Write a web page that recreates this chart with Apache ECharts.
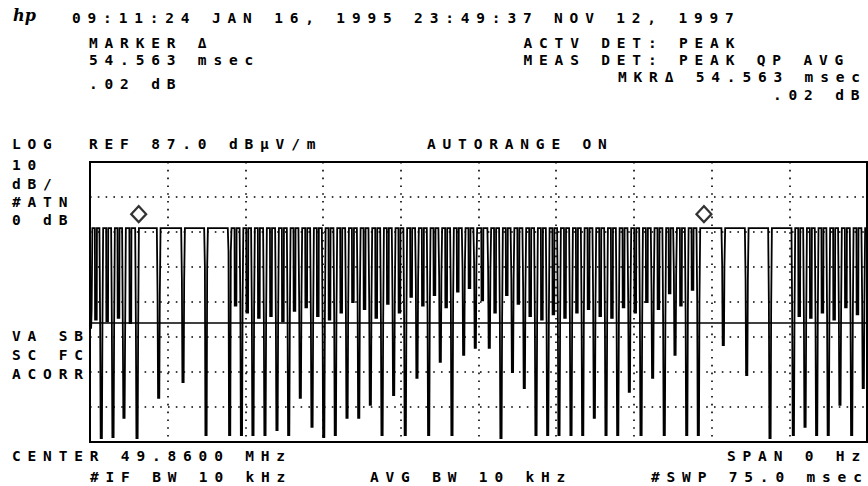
<!DOCTYPE html>
<html><head><meta charset="utf-8">
<script src="https://cdn.jsdelivr.net/npm/echarts@6.0.0/dist/echarts.min.js"></script>
<style>
html,body{margin:0;padding:0;background:#fff;}
#c{width:868px;height:486px;}
#c svg text{letter-spacing:6.82px;}
#c svg text[fill="#010101"]{letter-spacing:0;}
</style></head><body><div id="c"></div>
<script>
// ---- data (time in msec, level in dBuV/m) ----
const REF_LEVEL = 87.0;
const SWEEP_MS = 75.0;
const TOP_LEVEL = 68.1;
const DISPLAY_LINE = 41.0;
// deep dips: centre time, level where the two edges meet, lowest level
const dipTimes = [0.05,1.09,2.22,3.28,4.54,6.63,8.98,11.20,13.48,14.62,15.73,16.89,18.05,19.18,20.30,21.43,22.56,23.68,24.81,25.94,27.06,28.19,29.31,30.43,31.56,32.69,33.81,34.94,36.07,37.19,38.54,39.67,40.78,41.92,43.05,44.18,45.27,46.43,47.56,48.68,49.81,50.94,52.06,53.19,54.31,55.43,56.47,57.60,58.72,61.13,63.39,65.64,67.89,69.02,70.14,71.26,72.39,73.52,74.64];
const dipDeep  = [39.6,8.1,8.4,13.9,8.1,19.6,24.1,9.0,9.0,9.0,9.0,9.0,10.4,9.0,19.6,11.3,8.4,9.0,13.9,13.9,17.6,9.0,20.4,9.0,25.3,9.0,29.9,9.0,31.9,33.9,33.9,8.1,27.0,22.4,9.0,9.0,9.0,9.0,9.0,13.9,9.0,9.0,21.3,9.0,25.3,9.0,31.9,9.0,9.0,34.7,26.1,8.1,9.0,11.3,9.0,9.0,17.6,9.0,22.4];
const dipMid   = [45.0,39.9,40.4,38.1,39.6,49.0,53.3,57.0,61.3,47.6,44.7,41.9,41.9,41.9,47.6,41.9,41.0,43.3,44.7,47.6,47.6,41.9,47.6,41.9,53.3,44.7,54.7,47.6,56.1,57.6,56.1,41.9,53.3,50.4,41.9,41.9,41.9,41.9,43.3,46.1,41.9,41.9,47.6,41.9,50.4,41.9,54.7,44.7,47.6,57.6,53.3,46.1,41.9,41.9,41.9,41.9,44.7,41.9,47.6];
// shallow slots between the deep dips
const slotTimes  = [0.57,1.66,2.75,3.90,14.05,15.18,16.30,17.47,18.62,19.74,20.87,21.99,23.12,24.25,25.38,26.50,27.63,28.75,29.87,31.00,32.13,33.25,34.38,35.50,36.63,37.87,39.10,40.23,41.35,42.49,43.62,44.73,45.85,47.00,48.12,49.25,50.38,51.50,52.63,53.75,54.87,55.95,57.04,58.16,68.46,69.58,70.70,71.83,72.96,74.08];
const slotLevels = [42.0,41.5,42.5,41.0,46.0,44.0,42.5,43.0,41.5,44.5,45.5,43.0,42.0,44.0,47.0,45.0,42.5,46.5,44.0,48.5,46.0,49.0,45.5,50.0,51.0,47.5,44.0,49.0,46.5,43.0,42.0,43.5,42.5,44.0,45.0,43.0,42.5,45.5,44.0,47.0,45.0,49.5,46.0,50.5,43.0,42.5,44.0,42.0,45.5,43.5];
const markerTimes = [4.7, 59.26];
const markerLevel = 68.1;

const headerLines = ["09:11:24 JAN 16, 1995 23:49:37 NOV 12, 1997"];
const leftInfo = ["MARKER \u0394", "54.563 msec", ".02 dB"];
const rightInfo = ["ACTV DET: PEAK", "MEAS DET: PEAK QP AVG", "MKR\u0394 54.563 msec", ".02 dB"];
const scaleInfo = ["LOG", "10", "dB/", "#ATN", "0 dB"];
const refText = "REF 87.0 dB\u00B5V/m";
const autoText = "AUTORANGE ON";
const modeInfo = ["VA SB", "SC FC", "ACORR"];
const footer = ["CENTER 49.8600 MHz", "SPAN 0 Hz", "#IF BW 10 kHz", "AVG BW 10 kHz", "#SWP 75.0 msec"];

// ---- build trace polyline from dips and slots, in time order ----
const LEG = 0.18, MIDW = 0.11, BOTW = 0.06, SLOT = 0.10;
const rel = v => v - REF_LEVEL;
const events = [];
dipTimes.forEach((t, i) => events.push({t, pts:[[t - LEG, TOP_LEVEL], [t - MIDW, dipMid[i]], [t - BOTW, dipDeep[i]],
  [t + BOTW, dipDeep[i]], [t + MIDW, dipMid[i]], [t + LEG, TOP_LEVEL]]}));
slotTimes.forEach((t, i) => events.push({t, pts:[[t - SLOT, TOP_LEVEL], [t - SLOT * 0.8, slotLevels[i]],
  [t + SLOT * 0.8, slotLevels[i]], [t + SLOT, TOP_LEVEL]]}));
events.sort((a, b) => a.t - b.t);
const trace = [];
events.forEach(e => e.pts.forEach(p => trace.push([p[0], rel(p[1])])));
trace.push([SWEEP_MS, rel(TOP_LEVEL)]);

// ---- text layout ----
const FONT = 'bold 14.5px "DejaVu Sans Mono"';
const txt = (s, x, capTop) => ({type:'text', x: x, y: capTop - 0.95, silent:true,
  style:{text:s, font:FONT, fill:'#000', textAlign:'left', textVerticalAlign:'top'}});
const g = [];
g.push({type:'text', x:13, y:7, silent:true, style:{text:'hp', font:'italic bold 16px "DejaVu Serif"', fill:'#010101', textVerticalAlign:'top'}});
g.push(txt(headerLines[0], 72, 11.7));
[36, 53.3, 77].forEach((y, i) => g.push(txt(leftInfo[i], 89, y)));
[[523.5,36],[523.5,53],[618,70.7],[773,88]].forEach((p, i) => g.push(txt(rightInfo[i], p[0], p[1])));
[137.3,158,177,195,213].forEach((y, i) => g.push(txt(scaleInfo[i], 12, y)));
g.push(txt(refText, 89, 137.3));
g.push(txt(autoText, 427, 137.3));
[329,348,367].forEach((y, i) => g.push(txt(modeInfo[i], 12, y)));
[[12,449],[727,449],[90,470],[370,470],[651,470]].forEach((p, i) => g.push(txt(footer[i], p[0], p[1])));

const dotted = {show:true, lineStyle:{color:'#000', width:1.6, type:[1.6,6.2]}};
const chart = echarts.init(document.getElementById('c'), null, {renderer:'svg'});
chart.setOption({
  animation:false,
  backgroundColor:'#fff',
  grid:{left:90, top:162, width:777, height:280, show:true, borderColor:'#000', borderWidth:2, backgroundColor:'transparent'},
  xAxis:{type:'value', min:0, max:SWEEP_MS, interval:7.5, axisLabel:{show:false}, axisTick:{show:false}, axisLine:{show:false}, splitLine:dotted},
  yAxis:{type:'value', min:-80, max:0, interval:10, axisLabel:{show:false}, axisTick:{show:false}, axisLine:{show:false}, splitLine:dotted},
  series:[
    {type:'line', data:trace, showSymbol:false, symbol:'none', clip:true,
     lineStyle:{color:'#000', width:1.8, join:'miter'},
     markLine:{silent:true, symbol:'none', label:{show:false}, lineStyle:{color:'#000', width:1.6, type:'solid'},
               data:[{yAxis: rel(DISPLAY_LINE)}]}},
    {type:'scatter', data:markerTimes.map(t => [t, rel(markerLevel)]), symbol:'diamond', symbolSize:[15,16], symbolOffset:[0,-14],
     itemStyle:{color:'#fff', borderColor:'#000', borderWidth:2.2}, z:5}
  ],
  graphic:{elements:g}
});
</script></body></html>
